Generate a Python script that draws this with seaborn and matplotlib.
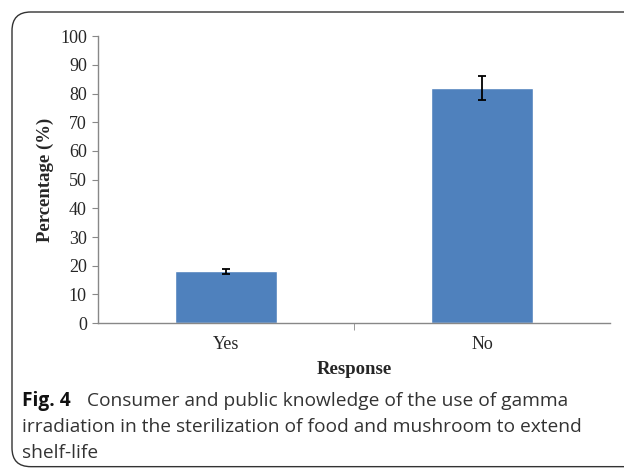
import pandas as pd
import seaborn as sns
import matplotlib.pyplot as plt
from matplotlib.patches import FancyBboxPatch

# Data
responses = ["Yes", "No"]
percentages = [18, 82]
errors = [0.9, 4.2]

df = pd.DataFrame({"Response": responses, "Percentage": percentages})

sns.set_style("white")
plt.rcParams['font.family'] = ['Liberation Serif', 'DejaVu Serif']

fig = plt.figure(figsize=(6.24, 4.69), dpi=100)
ax = fig.add_axes([0.157, 0.311, 0.821, 0.612])

sns.barplot(data=df, x="Response", y="Percentage", color="#4F81BD",
            width=0.4, errorbar=None, saturation=1, ax=ax)
ax.errorbar(x=range(len(responses)), y=percentages, yerr=errors, fmt="none",
            ecolor="black", elinewidth=1.3, capsize=3, capthick=1.3)

ax.set_ylim(0, 100)
ax.set_xlim(-0.5, 1.5)
ax.set_yticks(range(0, 101, 10))
ax.tick_params(axis="y", length=4, color="#888888", labelsize=13, pad=4, left=True)
ax.tick_params(axis="x", length=0, labelsize=13, pad=9)
ax.set_xticks([0.5], minor=True)
ax.tick_params(axis="x", which="minor", length=5, color="#888888", bottom=True)

for s in ["top", "right"]:
    ax.spines[s].set_visible(False)
for s in ["left", "bottom"]:
    ax.spines[s].set_color("#888888")
    ax.spines[s].set_linewidth(1)

ax.set_ylabel("Percentage (%)", fontsize=13.5, fontweight="bold", labelpad=4)
ax.set_xlabel("Response", fontsize=13.5, fontweight="bold", labelpad=6)

# Rounded frame around the figure
frame = FancyBboxPatch((12 / 624, 0.005), 1.2, (469 - 12) / 469 - 0.005,
                       boxstyle="round,pad=0,rounding_size=0.03",
                       transform=fig.transFigure, fill=False,
                       edgecolor="#333333", linewidth=1, mutation_aspect=624 / 469)
fig.patches.append(frame)

# Caption
cap_font = ['Open Sans', 'DejaVu Sans']
fig.text(22 / 624, 1 - 401 / 469, "Fig. 4", fontsize=13.8, fontweight="bold",
         family=cap_font, color="#111111", va="center")
fig.text(87 / 624, 1 - 401 / 469, "Consumer and public knowledge of the use of gamma",
         fontsize=13.8, family=cap_font, color="#333333", va="center")
fig.text(22 / 624, 1 - 427 / 469, "irradiation in the sterilization of food and mushroom to extend",
         fontsize=13.8, family=cap_font, color="#333333", va="center")
fig.text(22 / 624, 1 - 453 / 469, "shelf-life",
         fontsize=13.8, family=cap_font, color="#333333", va="center")

fig.savefig("out.png", dpi=100)
